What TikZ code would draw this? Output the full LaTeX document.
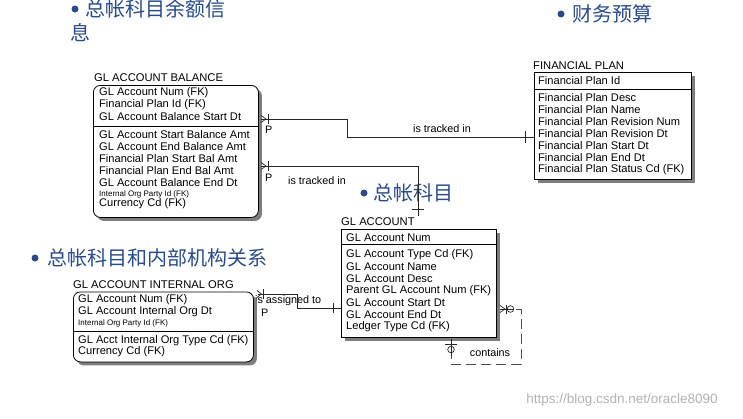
\documentclass[tikz,border=0pt]{standalone}
\usepackage{fontspec}
\setmainfont{Liberation Sans}
\newfontfamily\cjk{Noto Sans CJK SC}
\usetikzlibrary{shadows}
\definecolor{ttl}{RGB}{41,75,140}
\definecolor{shd}{RGB}{125,125,125}
\begin{document}
\begin{tikzpicture}[x=1pt,y=-1pt,
  ent/.style={draw=black, line width=0.8pt, fill=white, anchor=north west, inner sep=0,
     drop shadow={shadow xshift=3.5pt, shadow yshift=-3.5pt, fill=shd, opacity=1}},
  rnd/.style={rounded corners=7pt},
  row/.style={anchor=west, inner sep=0, font=\fontsize{11.1}{12}\selectfont},
  smallrow/.style={anchor=west, inner sep=0, font=\fontsize{8}{9}\selectfont},
  etitle/.style={anchor=west, inner sep=0, font=\fontsize{11.2}{12}\selectfont},
  divider/.style={draw=black, line width=0.8pt},
  rel/.style={draw=black!85, line width=0.7pt},
  reldash/.style={draw=black!70, line width=0.8pt, dash pattern=on 10pt off 5pt},
  lab/.style={inner sep=0, font=\fontsize{10.8}{12}\selectfont},
  cn/.style={text=ttl, font=\cjk\fontsize{20}{23}\selectfont, inner sep=0, anchor=west},
  dot/.style={circle, fill=ttl, minimum size=7pt, inner sep=0},
]
\useasboundingbox (0,0) rectangle (743,418);
\fill[white] (0,0) rectangle (743,418);

% ---------- Chinese headings ----------
\node[dot] (d1) at (75,9) {};
\node[cn] (h1) at (85,9) {总帐科目余额信};
\node[cn] (h1b) at (70,33) {息};
\node[dot] (d2) at (561,14) {};
\node[cn] (h2) at (572,14) {财务预算};
\node[dot] (d3) at (364,193) {};
\node[cn] (h3) at (373,193) {总帐科目};
\node[dot] (d4) at (35,258) {};
\node[cn] (h4) at (47,258) {总帐科目和内部机构关系};

% ---------- relationship label behind org box ----------
\node[lab, anchor=west] (l3) at (255,301) {is assigned to};

% ---------- GL ACCOUNT BALANCE ----------
\node[etitle] (balT) at (94,78) {GL ACCOUNT BALANCE};
\node[ent, rnd, minimum width=165pt, minimum height=132pt] (bal) at (93,85) {};
\draw[divider] (93,126) -- (258,126);
\foreach \yy/\tt [count=\i] in {93/GL Account Num (FK), 105/Financial Plan Id (FK),
   117/GL Account Balance Start Dt, 135/GL Account Start Balance Amt,
   147/GL Account End Balance Amt, 159/Financial Plan Start Bal Amt,
   171/Financial Plan End Bal Amt, 183/GL Account Balance End Dt, 204/Currency Cd (FK)}
  \node[row] (bal\i) at (99,\yy) {\tt};
\node[smallrow] (balS) at (99,194) {Internal Org Party Id (FK)};

% ---------- FINANCIAL PLAN ----------
\node[etitle] (fpT) at (533,66) {FINANCIAL PLAN};
\node[ent, minimum width=157pt, minimum height=107pt] (fp) at (534,72) {};
\draw[divider] (534,89.5) -- (691,89.5);
\foreach \yy/\tt [count=\i] in {80.5/Financial Plan Id, 98/Financial Plan Desc,
   110/Financial Plan Name, 122/Financial Plan Revision Num,
   134/Financial Plan Revision Dt, 146/Financial Plan Start Dt,
   157.5/Financial Plan End Dt, 169.5/Financial Plan Status Cd (FK)}
  \node[row] (fp\i) at (538,\yy) {\tt};

% ---------- GL ACCOUNT ----------
\node[etitle] (glaT) at (341,222) {GL ACCOUNT};
\node[ent, minimum width=155pt, minimum height=108pt] (gla) at (341,229) {};
\draw[divider] (341,244.5) -- (496,244.5);
\foreach \yy/\tt [count=\i] in {237.5/GL Account Num, 255/GL Account Type Cd (FK),
   267/GL Account Name, 279/GL Account Desc, 291/Parent GL Account Num (FK),
   303/GL Account Start Dt, 315/GL Account End Dt, 327/Ledger Type Cd (FK)}
  \node[row] (gla\i) at (346,\yy) {\tt};

% ---------- GL ACCOUNT INTERNAL ORG ----------
\node[etitle] (orgT) at (73,285) {GL ACCOUNT INTERNAL ORG};
\node[ent, rnd, minimum width=180pt, minimum height=70pt] (org) at (73,291.5) {};
\draw[divider] (73,331) -- (253,331);
\foreach \yy/\tt [count=\i] in {300/GL Account Num (FK), 311.5/GL Account Internal Org Dt,
   340.5/GL Acct Internal Org Type Cd (FK), 352/Currency Cd (FK)}
  \node[row] (org\i) at (78,\yy) {\tt};
\node[smallrow] (orgS) at (78,323) {Internal Org Party Id (FK)};

% ---------- relationship 1: balance -> financial plan ----------
\coordinate (r1a) at (261,119);
\coordinate (r1b) at (534,137);
\draw[rel] (r1a) -- (347,119) -- (347,137) -- (r1b);
\draw[rel] (261,115.5) -- (266,119) -- (261,122.5);
\draw[rel] (268,114) -- (268,124);
\draw[rel] (525,131) -- (525,143);
\node[lab] (l1) at (442,129) {is tracked in};
\node[lab, anchor=west] (p1) at (265,130) {P};

% ---------- relationship 2: balance -> gl account ----------
\coordinate (r2a) at (261,166);
\coordinate (r2b) at (418,216);
\draw[rel] (r2a) -- (418,166) -- (r2b);
\draw[rel] (261,162.5) -- (266,166) -- (261,169.5);
\draw[rel] (268,161) -- (268,171);
\draw[rel] (412,209) -- (424,209);
\node[lab] (l2) at (317,181) {is tracked in};
\node[lab, anchor=west] (p2) at (265,178) {P};

% ---------- relationship 3: internal org -> gl account ----------
\coordinate (r3a) at (258,294);
\coordinate (r3b) at (341,308);
\draw[rel] (r3a) -- (297,294) -- (297,308) -- (r3b);
\draw[rel] (257,290.5) -- (261.5,294) -- (257,297.5);
\draw[rel] (263,289) -- (263,299);
\draw[rel] (333,303) -- (333,313);
\node[lab, anchor=west] (p3) at (261,312.5) {P};

% ---------- relationship 4: gl account contains gl account ----------
\coordinate (r4a) at (500,309);
\coordinate (r4b) at (451,339);
\draw[rel] (r4a) -- (514,309);
\draw[rel] (500,305.5) -- (505,309) -- (500,312.5);
\draw[rel] (506,304.5) -- (506,313.5);
\draw[rel, fill=white] (510.5,309) circle (3.3);
\draw[rel] (507.2,309) -- (513.8,309);
\draw[reldash] (516,309) -- (521,309) -- (521,364) -- (451,364) -- (451,356);
\draw[rel] (451,356) -- (r4b);
\draw[rel] (445,344) -- (457,344);
\draw[rel, fill=white] (451,349.5) circle (3.3);
\draw[rel] (451,346.2) -- (451,352.8);
\node[lab] (l4) at (490,353) {contains};

% ---------- watermark ----------
\node[inner sep=0, text=black!30, font=\fontsize{13.5}{15}\selectfont] (wm) at (622,400)
  {https://blog.csdn.net/oracle8090};
\end{tikzpicture}
\end{document}
